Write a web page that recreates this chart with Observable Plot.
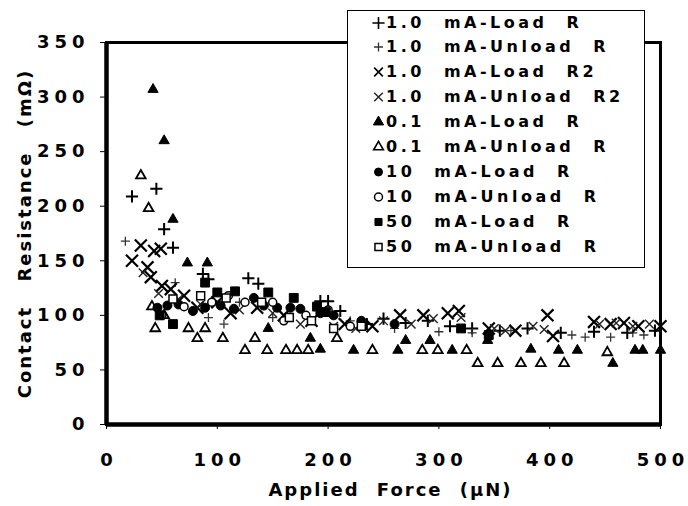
<!DOCTYPE html>
<html><head><meta charset="utf-8">
<script src="https://cdn.jsdelivr.net/npm/d3@7"></script>
<script src="https://cdn.jsdelivr.net/npm/@observablehq/plot@0.6"></script>
<style>
body{margin:0;background:#fff;}
#wrap{position:relative;width:688px;height:506px;font-family:"DejaVu Sans",sans-serif;}
#legend{position:absolute;left:347px;top:10px;width:298px;height:258px;border:1.5px solid #000;background:#fff;box-sizing:border-box;}
.row{position:absolute;left:24px;height:22px;display:flex;align-items:center;font-weight:bold;font-size:16px;letter-spacing:3.5px;word-spacing:10px;white-space:pre;color:#000;font-family:"DejaVu Sans",sans-serif;}
.row svg{margin-right:1px;}
</style></head>
<body><div id="wrap"><div id="chart"></div><div id="legend"></div></div>
<script>
// ---- data (Applied Force µN, Contact Resistance mΩ) ----
const load10_R = [[23,209],[45,216],[52,179],[60,162],[87,138],[92,133],[128,134],[137,129],[193,113],[200,113],[211,104],[235,92],[250,97],[270,93],[290,95],[310,90],[330,88],[355,86],[380,88],[410,84],[440,85],[470,84],[495,86]];
const unload10_R = [[17,168],[62,130],[92,98],[106,92],[120,112],[150,98],[220,95],[260,88],[300,85],[330,84],[345,82],[365,86],[420,82],[432,80],[455,80],[475,84],[485,82]];
const load10_R2 = [[23,150],[31,164],[37,144],[43,159],[49,161],[40,135],[50,127],[58,124],[70,118],[82,107],[100,112],[112,102],[136,107],[160,100],[185,95],[215,92],[240,90],[265,100],[286,100],[308,102],[318,104],[345,88],[369,86],[398,100],[403,81],[440,94],[455,92],[467,93],[480,90],[500,90]];
const unload10_R2 = [[33,139],[47,120],[65,115],[85,110],[120,105],[150,102],[175,92],[205,90],[225,88],[250,95],[275,92],[295,97],[320,98],[350,88],[360,86],[385,90],[395,87],[445,92],[460,93],[475,90],[490,92]];
const load01_R = [[42,307],[52,260],[60,188],[73,148],[91,148],[146,88],[184,79],[193,69],[223,68],[263,68],[270,77],[292,77],[312,68],[344,77],[383,69],[408,68],[425,68],[457,56],[477,68],[484,68],[500,68]];
const unload01_R = [[31,228],[38,198],[41,108],[44,88],[52,100],[74,88],[82,79],[89,88],[105,79],[125,68],[134,79],[145,68],[162,68],[172,68],[182,68],[208,79],[240,68],[285,68],[299,68],[325,68],[335,56],[353,56],[374,56],[392,56],[413,56],[452,66]];
const load100_R = [[46,107],[55,109],[65,110],[78,104],[89,107],[103,109],[115,106],[133,116],[142,109],[154,107],[166,107],[175,106],[193,102],[205,100],[230,95],[260,92]];
const unload100_R = [[50,100],[70,108],[95,112],[110,118],[125,112],[150,112],[160,95],[180,100],[200,105],[220,90]];
const load500_R = [[48,100],[60,92],[89,130],[100,121],[116,122],[146,121],[169,116],[190,108],[198,103],[320,88],[345,82]];
const unload500_R = [[60,115],[85,118],[108,116],[140,112],[165,98],[185,95],[205,88],[230,90]];

const seriesNames = ["1.0 mA-Load R","1.0 mA-Unload R","1.0 mA-Load R2","1.0 mA-Unload R2","0.1 mA-Load R","0.1 mA-Unload R","10 mA-Load R","10 mA-Unload R","50 mA-Load R","50 mA-Unload R"];
const seriesData = [load10_R, unload10_R, load10_R2, unload10_R2, load01_R, unload01_R, load100_R, unload100_R, load500_R, unload500_R];
const yTicks = [0,50,100,150,200,250,300,350];
const xTicks = [0,100,200,300,400,500];
const xTitle = "Applied Force (μN)";
const yTitle = "Contact Resistance (mΩ)";

const styles = [
  {symbol:"plus", r:4, fill:"none", stroke:"#000", sw:2},
  {symbol:"plus", r:3, fill:"none", stroke:"#333", sw:1.3},
  {symbol:"times", r:5.5, fill:"none", stroke:"#000", sw:2.2},
  {symbol:"times", r:4, fill:"none", stroke:"#222", sw:1.4},
  {symbol:"triangle", r:3.8, fill:"#000", stroke:"#000", sw:1},
  {symbol:"triangle", r:3.6, fill:"#fff", stroke:"#000", sw:1.8},
  {symbol:"circle", r:4.5, fill:"#000", stroke:"#000", sw:1},
  {symbol:"circle", r:4, fill:"#fff", stroke:"#000", sw:1.5},
  {symbol:"square", r:5, fill:"#000", stroke:"#000", sw:1},
  {symbol:"square", r:4.5, fill:"#fff", stroke:"#000", sw:1.5}
];

const marks = [];
seriesData.forEach((data, i) => {
  const s = styles[i];
  marks.push(Plot.dot(data, {x: d => d[0], y: d => d[1], symbol: s.symbol, r: s.r, fill: s.fill, stroke: s.stroke, strokeWidth: s.sw}));
});

const svg = Plot.plot({
  width: 688, height: 506,
  marginLeft: 106, marginRight: 28, marginTop: 42, marginBottom: 82,
  style: {fontFamily: '"DejaVu Sans", sans-serif', color: "#000", background: "#fff"},
  x: {domain: [0, 500]},
  y: {domain: [0, 350]},
  marks: [
    Plot.axisY({ticks: yTicks, tickSize: 6, tickPadding: 11, label: null, fontSize: 18, fontWeight: "bold"}),
    Plot.axisX({ticks: xTicks, tickSize: 5, tickPadding: 24, label: null, fontSize: 18, fontWeight: "bold"}),
    ...marks,
    Plot.frame({stroke: "#000", strokeWidth: 3}),
    Plot.ruleX([0], {stroke: "#000", strokeWidth: 4.5}),
    Plot.ruleY([0], {stroke: "#000", strokeWidth: 4.5}),
    Plot.text([xTitle], {frameAnchor: "bottom", dy: 66, dx: 7, lineAnchor: "middle", textAnchor: "middle", text: d => d, fontSize: 18, fontWeight: "bold"}),
    Plot.text([yTitle], {frameAnchor: "left", dx: -81, rotate: -90, lineAnchor: "middle", textAnchor: "middle", text: d => d, fontSize: 18, fontWeight: "bold"})
  ]
});
document.getElementById("chart").appendChild(svg);
const sel = d3.select(svg);
sel.selectAll('g[aria-label="y-axis tick label"] text, g[aria-label="x-axis tick label"] text').style("letter-spacing", "5px").style("font-weight", "bold");
sel.selectAll('g[aria-label="x-axis tick label"] text').attr("dx", "2.5");
sel.selectAll("text").each(function() {
  const t = this.textContent;
  if (t === xTitle) d3.select(this).style("letter-spacing", "2px").style("word-spacing", "9px");
  if (t === yTitle) d3.select(this).style("letter-spacing", "2px").style("word-spacing", "16px");
});

// legend
const legend = document.getElementById("legend");
const symMap = {plus: d3.symbolPlus, times: d3.symbolTimes, triangle: d3.symbolTriangle, circle: d3.symbolCircle, square: d3.symbolSquare};
seriesNames.forEach((name, i) => {
  const s = styles[i];
  const row = document.createElement("div");
  row.className = "row";
  row.style.top = (12.5 + 24.9 * i - 11 - 1.5) + "px";
  const ls = d3.create("svg").attr("width", 13).attr("height", 13);
  const rr = Math.min(s.r, 4);
  ls.append("path").attr("transform", "translate(6.5,7)")
    .attr("d", d3.symbol(symMap[s.symbol], Math.PI * rr * rr)())
    .attr("fill", s.fill).attr("stroke", s.stroke).attr("stroke-width", Math.min(s.sw, 1.6));
  row.appendChild(ls.node());
  const t = document.createElement("span");
  t.textContent = name;
  row.appendChild(t);
  legend.appendChild(row);
});
</script></body></html>
